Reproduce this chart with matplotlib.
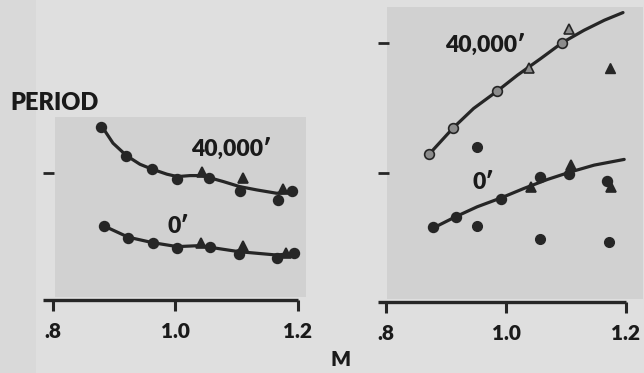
import matplotlib
matplotlib.use('Agg')
import matplotlib.pyplot as plt
from matplotlib.patches import Rectangle

plt.rcParams['font.family'] = ['Lato', 'DejaVu Sans']

# left panel: period vs M, measured points (circles and triangles) + faired curves
lft_hi_circ_x = [0.879, 0.920, 0.961, 1.003, 1.055, 1.105, 1.168, 1.191]
lft_hi_circ_y = [1.365, 1.136, 1.031, 0.950, 0.958, 0.858, 0.787, 0.858]
lft_hi_tri_x = [1.043, 1.110, 1.175]
lft_hi_tri_y = [1.006, 0.963, 0.874]
lft_hi_curve_x = [0.880, 0.898, 0.920, 0.942, 0.961, 0.986, 1.003, 1.024,
                  1.043, 1.055, 1.078, 1.105, 1.133, 1.165, 1.191]
lft_hi_curve_y = [1.365, 1.234, 1.136, 1.068, 1.031, 0.990, 0.971, 0.979,
                  0.979, 0.963, 0.932, 0.892, 0.866, 0.840, 0.850]

lft_lo_circ_x = [0.883, 0.923, 0.963, 1.003, 1.056, 1.104, 1.166, 1.193]
lft_lo_circ_y = [0.583, 0.486, 0.446, 0.407, 0.415, 0.362, 0.328, 0.372]
lft_lo_tri_x = [1.041, 1.111, 1.180]
lft_lo_tri_y = [0.446, 0.425, 0.368]
lft_lo_curve_x = [0.883, 0.923, 0.963, 1.003, 1.040, 1.056, 1.104, 1.165, 1.198]
lft_lo_curve_y = [0.583, 0.494, 0.451, 0.420, 0.428, 0.415, 0.380, 0.354, 0.368]

# right panel
rgt_hi_circ_x = [0.872, 0.912, 0.985, 1.094]
rgt_hi_circ_y = [1.143, 1.346, 1.629, 2.005]
rgt_hi_tri_x = [1.038, 1.105]
rgt_hi_tri_y = [1.809, 2.108]
rgt_hi_curve_x = [0.872, 0.912, 0.946, 0.985, 1.019, 1.058, 1.094, 1.130, 1.164, 1.195]
rgt_hi_curve_y = [1.143, 1.346, 1.496, 1.629, 1.753, 1.882, 2.005, 2.100, 2.178, 2.237]

rgt_lo_circ_x = [0.879, 0.916, 0.992, 1.056, 1.105, 1.169]
rgt_lo_circ_y = [0.577, 0.659, 0.798, 0.963, 0.986, 0.934]
rgt_lo_tri_x = [1.041, 1.108, 1.175]
rgt_lo_tri_y = [0.890, 1.058, 0.886]
rgt_lo_curve_x = [0.874, 0.916, 0.952, 0.992, 1.030, 1.069, 1.108, 1.147, 1.197]
rgt_lo_curve_y = [0.561, 0.659, 0.736, 0.805, 0.878, 0.947, 1.006, 1.058, 1.102]

# stray points off the curves
rgt_odd_circ_x = [0.951, 0.952, 1.057, 1.172]
rgt_odd_circ_y = [1.199, 0.587, 0.486, 0.466]
rgt_odd_tri_x = [1.174]
rgt_odd_tri_y = [1.809]

x_ticks = [0.8, 1.0, 1.2]
x_ticklabels = ['.8', '1.0', '1.2']

INK = '#262626'
BG = '#dfdfdf'
PANEL = '#d1d1d1'
W, H = 644, 373


def px_axes(fig, x0, y_bottom, width, height):
    # rectangle given in pixel coordinates, origin at top left
    return fig.add_axes([x0 / W, (H - y_bottom) / H, width / W, height / H])


def style_axes(ax, xlim, ylim, yticks, panel_x):
    ax.set_xlim(*xlim)
    ax.set_ylim(*ylim)
    ax.patch.set_visible(False)
    for side in ('top', 'right', 'left'):
        ax.spines[side].set_visible(False)
    ax.spines['bottom'].set_linewidth(2.4)
    ax.spines['bottom'].set_color(INK)
    ax.spines['bottom'].set_capstyle('butt')
    ax.set_xticks(x_ticks)
    ax.set_xticklabels(x_ticklabels, fontsize=15, fontweight='heavy', color='#1a1a1a')
    ax.tick_params(axis='x', direction='out', length=8, width=2.2, color=INK, pad=8)
    ax.set_yticks(yticks)
    ax.set_yticklabels([])
    ax.tick_params(axis='y', direction='in', length=8, width=2.0, color=INK)
    ax.add_patch(Rectangle((panel_x[0], ylim[0] + 0.02), panel_x[1] - panel_x[0],
                           ylim[1] - ylim[0] - 0.02, facecolor=PANEL,
                           edgecolor='none', clip_on=False, zorder=0))


def draw_set(ax, cx, cy, tx, ty, lx, ly, fill=INK):
    ax.plot(lx, ly, color=INK, lw=2.3, solid_capstyle='round', zorder=2)
    ax.plot(cx, cy, 'o', ms=7, mfc=fill, mec=INK, mew=1.2, zorder=3, clip_on=False)
    ax.plot(tx, ty, '^', ms=7, mfc=fill, mec=INK, mew=1.2, zorder=3, clip_on=False)


fig = plt.figure(figsize=(6.44, 3.73), dpi=100, facecolor=BG)
fig.patches.append(Rectangle((0, 0), 36 / W, 1, transform=fig.transFigure,
                             facecolor='#d9d9d9', edgecolor='none', zorder=0))

# left panel
ax1 = px_axes(fig, 43, 300, 255, 183)
style_axes(ax1, (0.7837, 1.2), (0, 1.44), [1.0], (0.803, 1.213))
draw_set(ax1, lft_hi_circ_x, lft_hi_circ_y, lft_hi_tri_x, lft_hi_tri_y,
         lft_hi_curve_x, lft_hi_curve_y)
draw_set(ax1, lft_lo_circ_x, lft_lo_circ_y, lft_lo_tri_x, lft_lo_tri_y,
         lft_lo_curve_x, lft_lo_curve_y)
ax1.text(1.09, 1.19, '40,000\u2032', fontsize=16.5, fontweight='heavy',
         color='#1a1a1a', ha='center', va='center')
ax1.text(1.005, 0.58, '0\u2032', fontsize=16.5, fontweight='heavy',
         color='#1a1a1a', ha='center', va='center')

# right panel
ax2 = px_axes(fig, 378, 302, 248, 295)
style_axes(ax2, (0.7866, 1.2), (0, 2.28), [1.0, 2.0], (0.802, 1.228))
draw_set(ax2, rgt_hi_circ_x, rgt_hi_circ_y, rgt_hi_tri_x, rgt_hi_tri_y,
         rgt_hi_curve_x, rgt_hi_curve_y, fill='#8c8c8c')
draw_set(ax2, rgt_lo_circ_x, rgt_lo_circ_y, rgt_lo_tri_x, rgt_lo_tri_y,
         rgt_lo_curve_x, rgt_lo_curve_y)
ax2.plot(rgt_odd_circ_x, rgt_odd_circ_y, 'o', ms=7, color=INK, zorder=3)
ax2.plot(rgt_odd_tri_x, rgt_odd_tri_y, '^', ms=7, color=INK, zorder=3)
ax2.text(0.965, 1.99, '40,000\u2032', fontsize=16.5, fontweight='heavy',
         color='#1a1a1a', ha='center', va='center')
ax2.text(0.962, 0.92, '0\u2032', fontsize=16.5, fontweight='heavy',
         color='#1a1a1a', ha='center', va='center')

fig.text(55 / W, 1 - 103 / H, 'PERIOD', fontsize=17, fontweight='heavy',
         color='#1a1a1a', ha='center', va='center')
fig.text(341 / W, 1 - 360 / H, 'M', fontsize=15, fontweight='heavy',
         color='#1a1a1a', ha='center', va='center')

fig.savefig('out.png', dpi=100, facecolor=BG)
